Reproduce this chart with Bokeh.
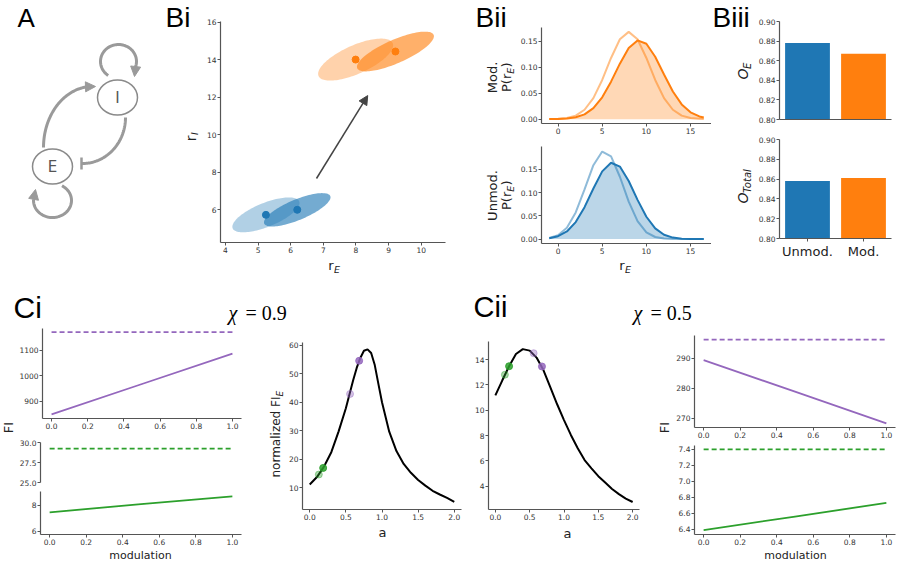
import numpy as np
from bokeh.plotting import figure
from bokeh.layouts import row, column
from bokeh.models import (Range1d, FactorRange, FixedTicker, Label, Arrow,
                          NormalHead, TeeHead, PrintfTickFormatter)
from bokeh.core.properties import value
from bokeh.embed import file_html
from bokeh.resources import INLINE

BLUE, ORANGE, PURPLE, GREEN = "#1f77b4", "#ff7f0e", "#9467bd", "#2ca02c"
GRAY = "#9a9a9a"
AX = "#555555"
TXT = "#222222"
SANS = "DejaVu Sans"
PANEL = "Liberation Sans"
SERIF = "Liberation Serif"

# ---------------- data ----------------
# A: network schematic
node_names = ["I", "E"]
node_x = [117, 52]
node_y = [97, 166]

# Bi: joint rate distributions (mean, sd, correlation)
ell_cx = [5.24, 6.20, 7.99, 9.21]
ell_cy = [5.73, 6.00, 14.01, 14.44]
ell_sx = [1.03, 1.02, 1.15, 1.18]
ell_sy = [0.93, 0.89, 1.12, 1.06]
ell_rho = [0.68, 0.75, 0.68, 0.77]
ell_color = [BLUE, BLUE, ORANGE, ORANGE]
ell_alpha = [0.35, 0.62, 0.35, 0.62]
shift_start = [6.79, 7.67]
shift_end = [8.36, 12.09]
bi_xticks = [4, 5, 6, 7, 8, 9, 10]
bi_yticks = [6, 8, 10, 12, 14, 16]

# Bii: marginal densities of r_E
rE = [-1, 0, 1, 2, 3, 4, 5, 6, 7, 8, 9, 10, 11, 12, 13, 14, 15, 16, 16.5]
mod_light = [0.0001, 0.0006, 0.0021, 0.0068, 0.0181, 0.0404, 0.0754, 0.1177, 0.1537, 0.1680,
             0.1537, 0.1177, 0.0754, 0.0404, 0.0181, 0.0068, 0.0021, 0.0006, 0.0003]
mod_dark = [0.0001, 0.0003, 0.0011, 0.0035, 0.0092, 0.0212, 0.0421, 0.0721, 0.1068, 0.1369,
            0.1516, 0.1451, 0.1200, 0.0859, 0.0531, 0.0284, 0.0131, 0.0052, 0.0031]
unmod_light = [0.0023, 0.0083, 0.0245, 0.0574, 0.1070, 0.1592, 0.1887, 0.1783, 0.1343, 0.0806,
               0.0386, 0.0147, 0.0045, 0.0011, 0.0002, 0.0000, 0.0000, 0.0000, 0.0000]
unmod_dark = [0.0020, 0.0062, 0.0164, 0.0366, 0.0688, 0.1091, 0.1459, 0.1644, 0.1562, 0.1251,
              0.0845, 0.0481, 0.0231, 0.0093, 0.0032, 0.0009, 0.0002, 0.0000, 0.0000]
bii_xticks = [0, 5, 10, 15]
bii_top_yticks = [0.0, 0.05, 0.10, 0.15]
bii_bot_yticks = [0.0, 0.05, 0.10, 0.15, 0.20]

# Biii: overlap measures
conds = ["Unmod.", "Mod."]
O_E = [0.878, 0.867]
O_total = [0.858, 0.861]
biii_yticks = [0.80, 0.82, 0.84, 0.86, 0.88, 0.90]

# Ci (chi = 0.9)
modulation = [0.0, 0.5, 1.0]
mod_ticks = [0.0, 0.2, 0.4, 0.6, 0.8, 1.0]
ci_fi_purple = [849, 968, 1087]
ci_fi_purple_max = 1172
ci_fi_green = [7.45, 8.08, 8.67]
ci_fi_green_max = 29.24
a_ci = [0.0, 0.1, 0.2, 0.3, 0.4, 0.5, 0.6, 0.65, 0.7, 0.75, 0.8, 0.85, 0.9, 0.95, 1.0,
        1.1, 1.2, 1.3, 1.4, 1.5, 1.6, 1.7, 1.8, 1.9, 2.0]
nfi_ci = [11.2, 13.8, 17.6, 22.6, 29.8, 37.9, 47.6, 52.0, 55.5, 58.0, 58.5, 57.2, 53.0, 46.4, 40.0,
          29.7, 22.9, 18.4, 15.3, 12.8, 10.8, 9.0, 7.7, 6.5, 5.1]
ci_pts_a = [0.126, 0.186, 0.558, 0.684]
ci_pts_v = [14.7, 17.0, 42.9, 54.5]

# Cii (chi = 0.5)
cii_fi_purple = [289.4, 278.9, 268.4]
cii_fi_purple_max = 296.2
cii_fi_green = [6.39, 6.56, 6.73]
cii_fi_green_max = 7.40
a_cii = [0.0, 0.1, 0.2, 0.3, 0.4, 0.5, 0.6, 0.7, 0.8, 0.9, 1.0, 1.1, 1.2, 1.3, 1.4, 1.5,
         1.6, 1.7, 1.8, 1.9, 2.0]
nfi_cii = [11.17, 12.34, 13.47, 14.43, 14.82, 14.70, 14.15, 13.17, 11.82, 10.47, 9.22, 8.05,
           7.00, 6.07, 5.42, 4.80, 4.30, 3.79, 3.38, 3.03, 2.76]
cii_pts_a = [0.139, 0.200, 0.558, 0.679]
cii_pts_v = [12.8, 13.47, 14.5, 13.45]

a_ticks = [0.0, 0.5, 1.0, 1.5, 2.0]
pts_color = [GREEN, GREEN, PURPLE, PURPLE]
pts_alpha = [0.4, 0.85, 0.4, 0.85]


# ---------------- helpers ----------------
def fig(box, frame, xr, yr, xaxis=True, yaxis=True):
    bx, by, w, h = box
    fx0, fy0, fx1, fy1 = frame
    p = figure(width=w, height=h, x_range=xr, y_range=yr, title=None,
               output_backend="svg", toolbar_location=None,
               x_axis_location="below" if xaxis else None,
               y_axis_location="left" if yaxis else None,
               min_border_left=fx0 - bx, min_border_right=bx + w - fx1,
               min_border_top=fy0 - by, min_border_bottom=by + h - fy1,
               outline_line_color=None, frame_align=False)
    p.grid.visible = False
    for ax in p.axis:
        ax.axis_line_color = AX
        ax.axis_line_width = 1.2
        ax.major_tick_line_color = AX
        ax.major_tick_in = 0
        ax.major_tick_out = 3
        ax.minor_tick_line_color = None
        ax.major_label_text_font = SANS
        ax.major_label_text_font_size = "7.5px"
        ax.major_label_text_color = "#333333"
        ax.major_label_standoff = 1
    return p


def tfig(x0, y0, w, h):
    """text-only panel whose data coordinates equal page pixels"""
    p = figure(width=w, height=h, x_range=Range1d(x0, x0 + w), y_range=Range1d(y0 + h, y0),
               title=None, output_backend="svg", toolbar_location=None,
               x_axis_location=None, y_axis_location=None, min_border=0,
               outline_line_color=None, frame_align=False)
    p.grid.visible = False
    return p


def ticks(axis, vals, fmt=None):
    axis.ticker = FixedTicker(ticks=list(vals))
    if fmt:
        axis.formatter = PrintfTickFormatter(format=fmt)


def tl(p, X, Y, text, size, angle=0.0, align="left", font=SANS, style="normal", color=TXT):
    """(X, Y) is the text baseline point; converted to a 'middle' anchor."""
    if angle == 0:
        Y = Y - 0.35 * size
    else:
        X = X - 0.35 * size
    p.add_layout(Label(x=X, y=Y, text=text, angle=angle, text_align=align,
                       text_baseline="middle", text_font=font, text_font_size=f"{size}px",
                       text_font_style=style, text_color=color))


R90 = np.pi / 2

# ======================= TOP ROW (y 0..285) =======================
# ---- A ----
pA = tfig(0, 0, 150, 285)


def arc_pts(cx, cy, rx, ry, t0, t1, n=60):
    t = np.radians(np.linspace(t0, t1, n))
    return list(cx + rx * np.cos(t)), list(cy - ry * np.sin(t))


head = dict(size=10, fill_color=GRAY, line_color=GRAY)
xs, ys = arc_pts(92, 147, 49, 61, 180, 95)          # E -> I
pA.line(xs, ys, line_color=GRAY, line_width=3)
pA.add_layout(Arrow(end=NormalHead(**head), x_start=xs[-1], y_start=ys[-1], x_end=95, y_end=86,
                    line_color=GRAY, line_width=3))
xs, ys = arc_pts(82, 117, 43, 46, 0, -90)           # I -| E
pA.line(xs, ys, line_color=GRAY, line_width=3)
pA.add_layout(Arrow(end=TeeHead(size=12, line_color=GRAY, line_width=2.5), x_start=xs[-1] + 1,
                    y_start=ys[-1], x_end=xs[-1] - 1, y_end=ys[-1], line_color=GRAY, line_width=3))
xs, ys = arc_pts(118, 61, 18, 17, 235, -18)         # I self loop
pA.line(xs, ys, line_color=GRAY, line_width=3)
pA.add_layout(Arrow(end=NormalHead(**head), x_start=xs[-1], y_start=ys[-1], x_end=134, y_end=76,
                    line_color=GRAY, line_width=3))
xs, ys = arc_pts(52, 200, 19, 17, 60, -183)         # E self loop
pA.line(xs, ys, line_color=GRAY, line_width=3)
pA.add_layout(Arrow(end=NormalHead(**head), x_start=xs[-1], y_start=ys[-1], x_end=35, y_end=189,
                    line_color=GRAY, line_width=3))
pA.ellipse(x=node_x, y=node_y, width=40, height=35, width_units="screen", height_units="screen",
           fill_color="white", line_color="#8a8a8a", line_width=1.5)
pA.text(x=node_x, y=node_y, text=node_names, text_align="center", text_baseline="middle",
        text_font=value(SANS), text_font_size="15px", text_color="#555555")
tl(pA, 17, 27, "A", 26, font=PANEL, color="black")

# ---- Bi ----
pBiLab = tfig(150, 0, 50, 285)
tl(pBiLab, 165, 27, "Bi", 28, font=PANEL, color="black")
tl(pBiLab, 195, 135, "r", 14, angle=R90, align="right")
tl(pBiLab, 197.5, 134.5, "I", 9.5, angle=R90, style="italic")

pBi = fig((200, 0, 250, 257), (220, 21, 445, 242), Range1d(3.847, 10.745), Range1d(4.257, 16.04))
ticks(pBi.xaxis, bi_xticks)
ticks(pBi.yaxis, bi_yticks)
t = np.linspace(0, 2 * np.pi, 120)
exs, eys = [], []
for cx, cy, sx, sy, r in zip(ell_cx, ell_cy, ell_sx, ell_sy, ell_rho):
    exs.append(list(cx + sx * np.cos(t)))
    eys.append(list(cy + sy * (r * np.cos(t) + np.sqrt(1 - r * r) * np.sin(t))))
pBi.patches(exs, eys, fill_color=ell_color, fill_alpha=ell_alpha, line_color=None)
pBi.scatter(ell_cx, ell_cy, size=7, color=ell_color)
pBi.add_layout(Arrow(end=NormalHead(size=9, fill_color="#444444", line_color="#444444"),
                     x_start=shift_start[0], y_start=shift_start[1], x_end=shift_end[0],
                     y_end=shift_end[1], line_color="#444444", line_width=1.5))

pBiX = tfig(200, 257, 250, 28)
tl(pBiX, 333, 269.5, "r", 13, align="right")
tl(pBiX, 333.5, 272.5, "E", 9.5, style="italic")

# ---- Bii ----
pBiiLab = tfig(450, 0, 67, 285)
tl(pBiiLab, 475, 27, "Bii", 28, font=PANEL, color="black")


def p_re_label(p, word, yc):
    tl(p, 497, yc, word, 13, angle=R90, align="center")
    y0 = yc + 14.5
    tl(p, 511, y0, "P(r", 13, angle=R90)
    tl(p, 513.5, y0 - 18.3, "E", 9.5, angle=R90, style="italic")
    tl(p, 511, y0 - 24.5, ")", 13, angle=R90)


p_re_label(pBiiLab, "Mod.", 77)
p_re_label(pBiiLab, "Unmod.", 195)

pBt = fig((517, 0, 194, 137), (540, 27, 711, 123), Range1d(-1.875, 17.375),
          Range1d(-0.0084, 0.1764))
ticks(pBt.xaxis, bii_xticks)
ticks(pBt.yaxis, bii_top_yticks, "%.2f")
pBt.varea(x=rE, y1=0, y2=mod_dark, fill_color=ORANGE, fill_alpha=0.3)
pBt.line(rE, mod_light, line_color=ORANGE, line_alpha=0.5, line_width=2)
pBt.line(rE, mod_dark, line_color=ORANGE, line_width=2)

pBb = fig((517, 137, 194, 120), (540, 146, 711, 243), Range1d(-1.875, 17.375),
          Range1d(-0.0095, 0.1995))
ticks(pBb.xaxis, bii_xticks)
ticks(pBb.yaxis, bii_bot_yticks, "%.2f")
pBb.varea(x=rE, y1=0, y2=unmod_dark, fill_color=BLUE, fill_alpha=0.3)
pBb.line(rE, unmod_light, line_color=BLUE, line_alpha=0.5, line_width=2)
pBb.line(rE, unmod_dark, line_color=BLUE, line_width=2)

pBiiX = tfig(517, 257, 194, 28)
tl(pBiiX, 624, 269.5, "r", 13, align="right")
tl(pBiiX, 624.5, 272.5, "E", 9.5, style="italic")

# ---- Biii ----
pBiiiTitle = tfig(711, 0, 44, 35)
tl(pBiiiTitle, 712, 27, "Biii", 28, font=PANEL, color="black")

pBiiiLab = tfig(711, 35, 44, 250)
tl(pBiiiLab, 747, 79, "O", 14, angle=R90, style="italic")
tl(pBiiiLab, 750, 68.5, "E", 10, angle=R90, style="italic")
tl(pBiiiLab, 747, 203, "O", 14, angle=R90, style="italic")
tl(pBiiiLab, 750, 192.5, "Total", 10, angle=R90, style="italic")

pOt = fig((755, 0, 143, 130), (778, 21, 891, 119), Range1d(-0.5, 1.5), Range1d(0.80, 0.90))
ticks(pOt.xaxis, [])
ticks(pOt.yaxis, biii_yticks, "%.2f")
pOt.vbar(x=list(range(len(conds))), top=O_E, bottom=0, width=0.8,
         fill_color=[BLUE, ORANGE], line_color=None)

pOb = fig((755, 130, 143, 155), (778, 139, 891, 238),
          FactorRange(factors=conds, range_padding=0), Range1d(0.80, 0.90))
ticks(pOb.yaxis, biii_yticks, "%.2f")
pOb.xaxis.major_label_text_font_size = "13px"
pOb.xaxis.major_label_text_color = TXT
pOb.xaxis.major_label_standoff = 2
pOb.vbar(x=conds, top=O_total, bottom=0, width=0.8, fill_color=[BLUE, ORANGE], line_color=None)

top = row(pA,
          pBiLab, column(pBi, pBiX),
          pBiiLab, column(pBt, pBb, pBiiX),
          column(pBiiiTitle, pBiiiLab),
          column(pOt, pOb))

# ======================= BOTTOM ROW (y 285..563) =======================
# ---- Ci ----
pStripCi = tfig(0, 285, 470, 43)
tl(pStripCi, 13, 317, "Ci", 30, font=PANEL, color="black")
tl(pStripCi, 228, 319, "χ", 20, font=SERIF, style="italic", color="black")
tl(pStripCi, 245, 319, "= 0.9", 20, font=SERIF, color="black")

pFI = tfig(0, 328, 16, 235)
tl(pFI, 12.5, 427, "FI", 13, angle=R90, align="center")

pCiT = fig((16, 328, 244, 108), (40, 328, 241, 418), Range1d(-0.05, 1.05), Range1d(832.5, 1186))
ticks(pCiT.xaxis, mod_ticks, "%.1f")
ticks(pCiT.yaxis, [900, 1000, 1100])
pCiT.line([modulation[0], modulation[-1]], [ci_fi_purple_max] * 2, line_color=PURPLE,
          line_width=1.8, line_dash="5 3")
pCiT.line(modulation, ci_fi_purple, line_color=PURPLE, line_width=1.8)

pCiM = fig((16, 436, 244, 51), (40, 442, 241, 482), Range1d(-0.05, 1.05), Range1d(25, 30),
           xaxis=False)
ticks(pCiM.yaxis, [25.0, 27.5, 30.0], "%.1f")
pCiM.line([modulation[0], modulation[-1]], [ci_fi_green_max] * 2, line_color=GREEN,
          line_width=1.8, line_dash="5 3")

pCiB = fig((16, 487, 244, 61), (40, 491, 241, 534), Range1d(-0.05, 1.05), Range1d(5.75, 9.05))
ticks(pCiB.xaxis, mod_ticks, "%.1f")
ticks(pCiB.yaxis, [6, 8])
pCiB.line(modulation, ci_fi_green, line_color=GREEN, line_width=1.8)

pModCi = tfig(16, 548, 244, 15)
tl(pModCi, 140, 558.5, "modulation", 11, align="center")

pNFI = tfig(260, 328, 25, 235)
tl(pNFI, 280, 477, "normalized FI", 12, angle=R90)
tl(pNFI, 282.5, 396, "E", 9, angle=R90, style="italic")

pCiR = fig((285, 328, 185, 196), (302, 342, 461, 509), Range1d(-0.1, 2.1), Range1d(2.45, 60.9))
ticks(pCiR.xaxis, a_ticks, "%.1f")
ticks(pCiR.yaxis, [10, 20, 30, 40, 50, 60])
pCiR.line(a_ci, nfi_ci, line_color="black", line_width=2)
pCiR.scatter(ci_pts_a, ci_pts_v, size=7, color=pts_color, alpha=pts_alpha)

pACi = tfig(285, 524, 185, 39)
tl(pACi, 382, 537, "a", 13, align="center")

ci_block = column(pStripCi,
                  row(pFI, column(pCiT, pCiM, pCiB, pModCi), pNFI, column(pCiR, pACi)))

# ---- Cii ----
pStripCii = tfig(470, 285, 428, 48)
tl(pStripCii, 473, 317, "Cii", 29, font=PANEL, color="black")
tl(pStripCii, 633, 319, "χ", 20, font=SERIF, style="italic", color="black")
tl(pStripCii, 650, 319, "= 0.5", 20, font=SERIF, color="black")

pCiiL = fig((470, 333, 186, 191), (488, 341, 639, 509), Range1d(-0.1, 2.1),
            Range1d(2.17, 15.42))
ticks(pCiiL.xaxis, a_ticks, "%.1f")
ticks(pCiiL.yaxis, [4, 6, 8, 10, 12, 14])
pCiiL.line(a_cii, nfi_cii, line_color="black", line_width=2)
pCiiL.scatter(cii_pts_a, cii_pts_v, size=7, color=pts_color, alpha=pts_alpha)

pACii = tfig(470, 524, 186, 39)
tl(pACii, 567, 538, "a", 13, align="center")

pFI2 = tfig(656, 333, 16, 230)
tl(pFI2, 668.5, 427, "FI", 13, angle=R90, align="center")

pCiiT = fig((672, 333, 226, 109), (694, 335, 895, 427), Range1d(-0.05, 1.05),
            Range1d(267.0, 297.6))
ticks(pCiiT.xaxis, mod_ticks, "%.1f")
ticks(pCiiT.yaxis, [270, 280, 290])
pCiiT.line([modulation[0], modulation[-1]], [cii_fi_purple_max] * 2, line_color=PURPLE,
           line_width=1.8, line_dash="5 3")
pCiiT.line(modulation, cii_fi_purple, line_color=PURPLE, line_width=1.8)

pCiiB = fig((672, 442, 226, 106), (694, 445, 895, 534), Range1d(-0.05, 1.05),
            Range1d(6.335, 7.449))
ticks(pCiiB.xaxis, mod_ticks, "%.1f")
ticks(pCiiB.yaxis, [6.4, 6.6, 6.8, 7.0, 7.2, 7.4], "%.1f")
pCiiB.line([modulation[0], modulation[-1]], [cii_fi_green_max] * 2, line_color=GREEN,
           line_width=1.8, line_dash="5 3")
pCiiB.line(modulation, cii_fi_green, line_color=GREEN, line_width=1.8)

pModCii = tfig(672, 548, 226, 15)
tl(pModCii, 795, 558.5, "modulation", 11, align="center")

cii_block = column(pStripCii,
                   row(column(pCiiL, pACii), pFI2, column(pCiiT, pCiiB, pModCii)))

bottom = row(ci_block, cii_block)
layout = column(top, bottom)

open("out.html", "w").write(file_html(layout, INLINE))
